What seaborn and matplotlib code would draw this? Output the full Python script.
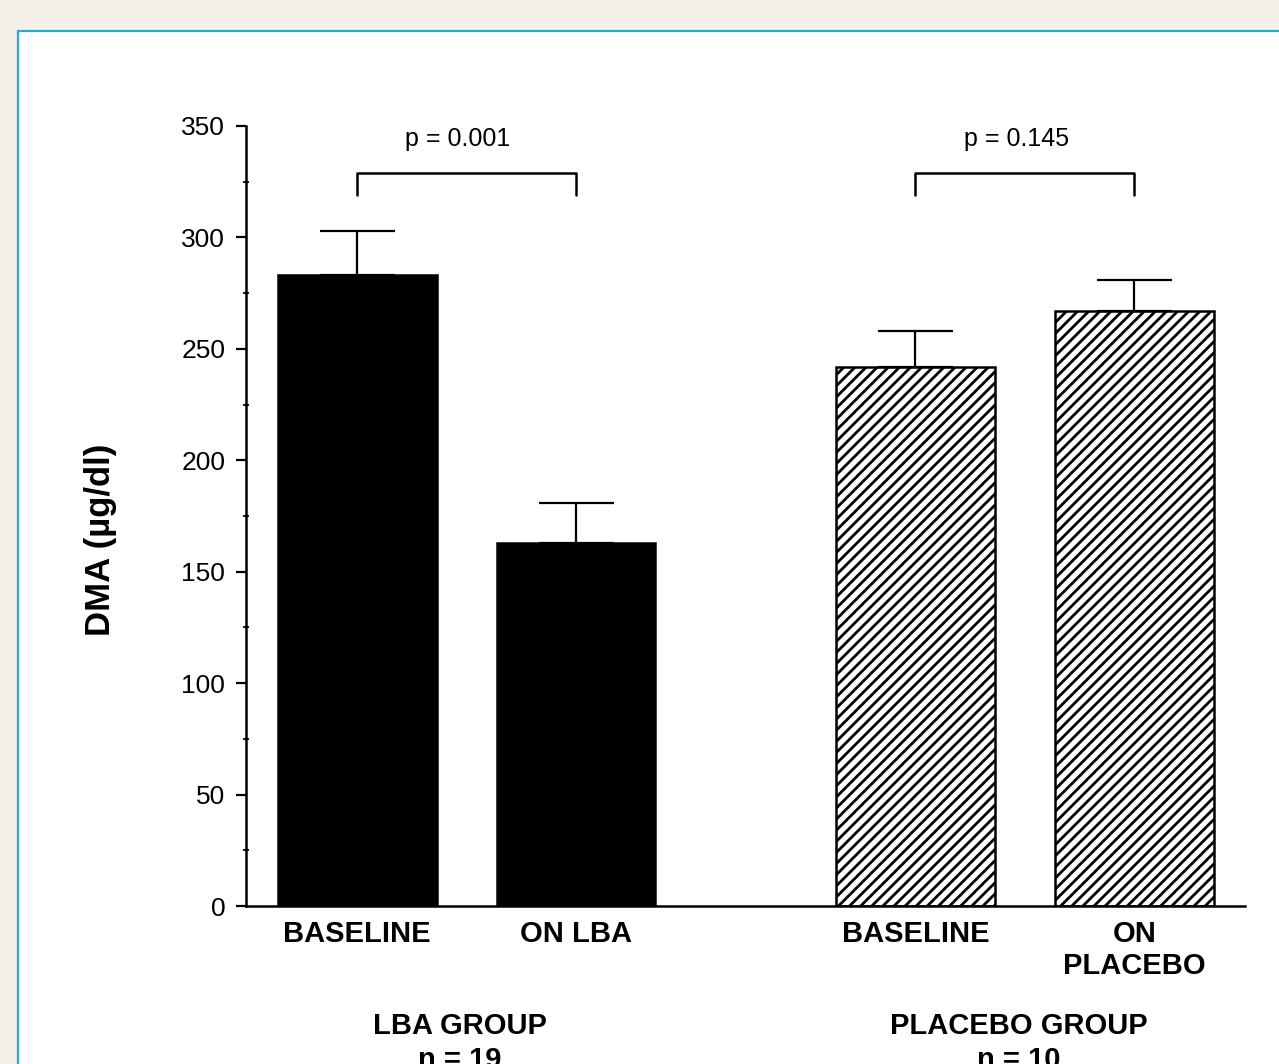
import matplotlib
matplotlib.use("Agg")
import matplotlib.pyplot as plt
import matplotlib.transforms as mtransforms
from matplotlib.patches import Rectangle
import seaborn as sns
import pandas as pd

grupos = ["LBA", "LBA", "PLACEBO", "PLACEBO"]
condiciones = ["BASELINE", "ON LBA", "BASELINE", "ON\nPLACEBO"]
dma = [283, 163, 242, 267]
error = [20, 18, 16, 14]
titulos = {"LBA": "LBA GROUP\nn = 19", "PLACEBO": "PLACEBO GROUP\nn = 10"}
p_valores = {"LBA": "p = 0.001", "PLACEBO": "p = 0.145"}
yticks = [0, 50, 100, 150, 200, 250, 300, 350]

sns.set_style("ticks")
plt.rcParams["font.family"] = ["Liberation Sans", "DejaVu Sans"]
plt.rcParams["hatch.linewidth"] = 2.0
plt.rcParams["hatch.color"] = "black"
for clave in ["text.color", "axes.labelcolor", "xtick.color", "ytick.color",
              "axes.edgecolor"]:
    plt.rcParams[clave] = "black"

# posicion de cada barra: indice dentro del grupo + separacion entre grupos
orden_grupos = list(dict.fromkeys(grupos))
posiciones = []
cuenta = {}
for g in grupos:
    i = cuenta.get(g, 0)
    posiciones.append(i + orden_grupos.index(g) * 2.55)
    cuenta[g] = i + 1

df = pd.DataFrame({"grupo": grupos, "cond": condiciones, "dma": dma,
                   "err": error, "pos": posiciones})

fig = plt.figure(figsize=(12.79, 10.64), dpi=100, facecolor="#f3f0e9")
panel = Rectangle((18 / 1279, -0.05), 1.0, (1064 - 31) / 1064 + 0.05,
                  transform=fig.transFigure, facecolor="white",
                  edgecolor="#22aecf", linewidth=1.6, zorder=-10)
fig.patches.append(panel)

ax = fig.add_axes([246 / 1279, 158 / 1064, (1245 - 246) / 1279, 780 / 1064])
ax.set_facecolor("none")
ax.set_zorder(5)

sns.barplot(data=df, x="pos", y="dma", hue="grupo",
            palette={"LBA": "black", "PLACEBO": "white"}, saturation=1,
            native_scale=True, width=0.726, errorbar=None, dodge=False,
            edgecolor="black", linewidth=1.8, legend=False, ax=ax)
for barra in ax.containers[1]:
    barra.set_hatch("///")

ax.errorbar(df["pos"], df["dma"], yerr=[[0] * len(df), df["err"]], fmt="none",
            ecolor="black", elinewidth=1.6, capsize=27, capthick=1.6, zorder=3)

# corchetes con p
trans_fig = mtransforms.blended_transform_factory(ax.transData, fig.transFigure)
for g in orden_grupos:
    sub = df[df["grupo"] == g]
    x0, x1 = sub["pos"].min(), sub["pos"].max()
    ax.plot([x0, x0, x1, x1], [319, 329, 329, 319], color="black", lw=1.8,
            clip_on=False)
    ax.text((x0 + x1) / 2 - 0.04, 344, p_valores[g], ha="center", va="center",
            fontsize=18)
    ax.text((x0 + x1) / 2 - 0.03, (1064 - 1012) / 1064, titulos[g], ha="center",
            va="top", fontsize=21, fontweight="bold", transform=trans_fig,
            linespacing=1.25)

ax.set_xlim(-0.507, 4.055)
ax.set_ylim(0, 350)
ax.set_yticks(yticks)
ax.set_yticks([v + 25 for v in yticks[:-1]], minor=True)
ax.set_xticks(df["pos"])
ax.set_xticklabels(df["cond"], fontsize=21, fontweight="bold")
ax.tick_params(axis="x", length=0, pad=10)
ax.tick_params(axis="y", which="major", length=7, width=1.6, labelsize=19, pad=8)
ax.tick_params(axis="y", which="minor", length=5, width=1.3, direction="inout")

ax.set_xlabel("")
ax.set_ylabel("DMA (µg/dl)", fontsize=25, fontweight="bold")
ax.yaxis.set_label_coords(-0.129, 0.47)

sns.despine(ax=ax)
for lado in ["left", "bottom"]:
    ax.spines[lado].set_linewidth(1.8)

fig.savefig("out.png", dpi=100, facecolor=fig.get_facecolor())
